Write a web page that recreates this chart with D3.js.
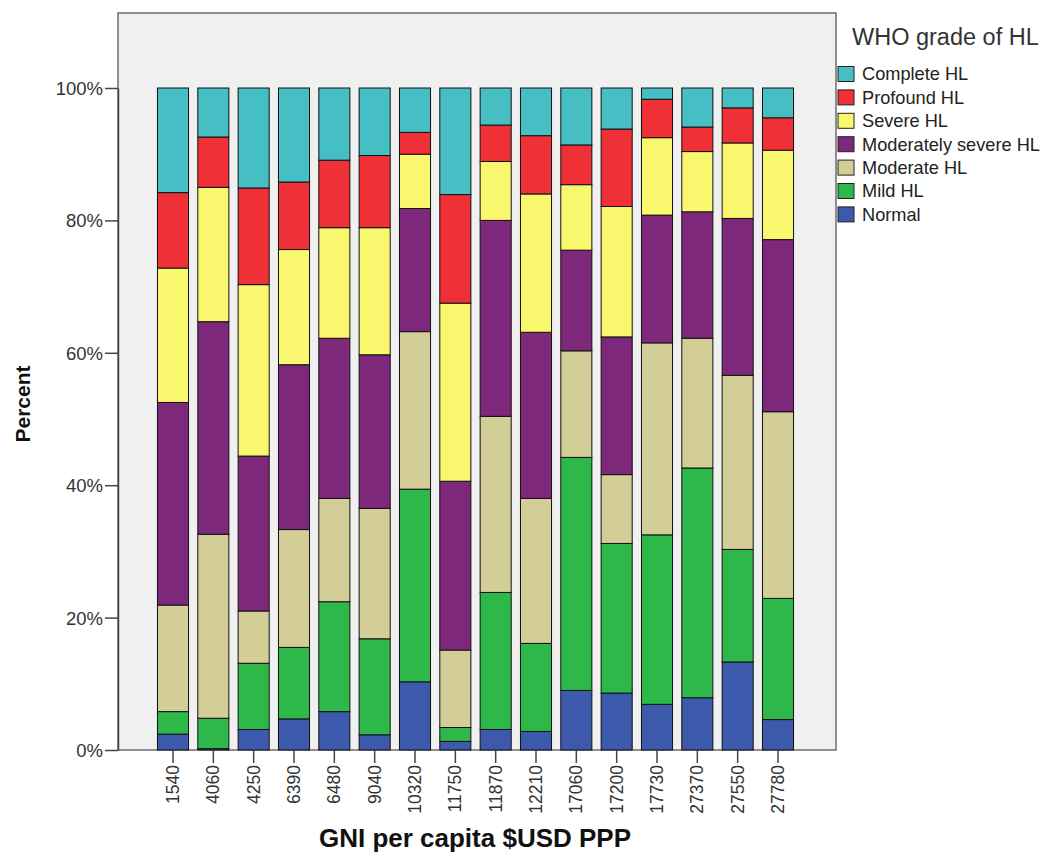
<!DOCTYPE html>
<html>
<head>
<meta charset="utf-8">
<script src="https://cdn.jsdelivr.net/npm/d3@7"></script>
<style>
  body { margin: 0; background: #fff; }
  svg { display: block; font-family: "Liberation Sans", Arial, sans-serif; }
</style>
</head>
<body>
<svg id="chart"></svg>
<script>
// GNI per capita categories
let categories = ["1540", "4060", "4250", "6390", "6480", "9040", "10320", "11750",
                  "11870", "12210", "17060", "17200", "17730", "27370", "27550", "27780"];

// percent in each WHO grade, bottom to top
let normal     = [2.4, 0.2, 3.1, 4.7, 5.8, 2.3, 10.3, 1.3, 3.1, 2.8, 9.0, 8.6, 6.9, 7.9, 13.3, 4.6];
let mild       = [3.4, 4.6, 10.0, 10.8, 16.6, 14.5, 29.1, 2.1, 20.7, 13.3, 35.2, 22.6, 25.6, 34.7, 17.0, 18.3];
let moderate   = [16.1, 27.8, 7.9, 17.8, 15.6, 19.7, 23.8, 11.7, 26.6, 21.9, 16.1, 10.4, 29.0, 19.6, 26.3, 28.2];
let modSevere  = [30.6, 32.1, 23.4, 24.9, 24.2, 23.2, 18.6, 25.5, 29.6, 25.1, 15.2, 20.8, 19.3, 19.1, 23.7, 26.0];
let severe     = [20.3, 20.3, 25.9, 17.4, 16.7, 19.2, 8.2, 26.9, 8.9, 20.9, 9.9, 19.7, 11.7, 9.1, 11.4, 13.5];
let profound   = [11.4, 7.6, 14.6, 10.2, 10.2, 10.9, 3.3, 16.4, 5.5, 8.8, 6.0, 11.7, 5.8, 3.7, 5.3, 4.9];
let complete   = [15.8, 7.4, 15.1, 14.2, 10.9, 10.2, 6.7, 16.1, 5.6, 7.2, 8.6, 6.2, 1.7, 5.9, 3.0, 4.5];

let seriesNames = ["Normal", "Mild HL", "Moderate HL", "Moderately severe HL", "Severe HL", "Profound HL", "Complete HL"];
let seriesValues = [normal, mild, moderate, modSevere, severe, profound, complete];
let seriesColors = ["#3d59ab", "#2fb84a", "#d3cd97", "#7e287c", "#f9f76e", "#f03037", "#45bec4"];
let yTicks = [0, 20, 40, 60, 80, 100];

let width = 1056;
let height = 858;

let svg = d3.select("#chart")
  .attr("width", width)
  .attr("height", height);

// рамка графика
let frame = { left: 118, right: 836, top: 13, bottom: 750 };

svg.append("rect")
  .attr("x", frame.left)
  .attr("y", frame.top)
  .attr("width", frame.right - frame.left)
  .attr("height", frame.bottom - frame.top)
  .attr("fill", "#f0f0f0")
  .attr("stroke", "#6e6e6e")
  .attr("stroke-width", 1.5);

// шкалы
let x = d3.scaleBand()
  .domain(categories)
  .range([137.3, 813.7])
  .paddingInner(0.23)
  .paddingOuter(0.5);

let y = d3.scaleLinear()
  .domain([0, 100])
  .range([frame.bottom, 88]);

// таблица для стека
let table = categories.map((c, i) => {
  let row = { cat: c };
  seriesNames.forEach((s, k) => { row[s] = seriesValues[k][i]; });
  return row;
});

let stack = d3.stack().keys(seriesNames);
let layers = stack(table);

svg.append("g")
  .selectAll("g")
  .data(layers)
  .join("g")
  .attr("fill", (d, k) => seriesColors[k])
  .selectAll("rect")
  .data(d => d)
  .join("rect")
  .attr("x", d => x(d.data.cat))
  .attr("width", x.bandwidth())
  .attr("y", d => y(d[1]))
  .attr("height", d => y(d[0]) - y(d[1]))
  .attr("stroke", "#111")
  .attr("stroke-width", 1);

// ось Y
let yAxis = svg.append("g")
  .attr("transform", `translate(${frame.left},0)`)
  .call(d3.axisLeft(y).tickValues(yTicks).tickFormat(d => d + "%").tickSize(13).tickPadding(2).tickSizeOuter(0));
yAxis.select(".domain").attr("stroke", "#444").attr("stroke-width", 1.5);
yAxis.selectAll(".tick line").attr("stroke", "#444").attr("stroke-width", 1.5);
yAxis.selectAll(".tick text")
  .attr("font-size", 18.5)
  .attr("fill", "#333")
  .attr("font-family", "Liberation Sans, Arial, sans-serif")
  .attr("dy", "0.35em");

// ось X
let xAxis = svg.append("g")
  .attr("transform", `translate(0,${frame.bottom})`)
  .call(d3.axisBottom(x).tickSize(13).tickSizeOuter(0));
xAxis.select(".domain").remove();
xAxis.selectAll(".tick line").attr("stroke", "#444").attr("stroke-width", 1.5);
xAxis.selectAll(".tick text")
  .attr("font-size", 17.5)
  .attr("fill", "#333")
  .attr("font-family", "Liberation Sans, Arial, sans-serif")
  .attr("text-anchor", "end")
  .attr("transform", "rotate(-90)")
  .attr("x", -15)
  .attr("y", 0)
  .attr("dy", "0.35em");

// подписи осей
svg.append("text")
  .attr("x", 475)
  .attr("y", 847)
  .attr("text-anchor", "middle")
  .attr("font-size", 26)
  .attr("font-weight", "bold")
  .attr("fill", "#111")
  .text("GNI per capita $USD PPP");

svg.append("text")
  .attr("transform", "translate(30,404) rotate(-90)")
  .attr("text-anchor", "middle")
  .attr("font-size", 21)
  .attr("font-weight", "bold")
  .attr("fill", "#111")
  .text("Percent");

// легенда
let legend = svg.append("g");
legend.append("text")
  .attr("x", 852)
  .attr("y", 45)
  .attr("font-size", 23.5)
  .attr("fill", "#333")
  .text("WHO grade of HL");

let legendOrder = d3.range(seriesNames.length).reverse();
let items = legend.selectAll("g.item")
  .data(legendOrder)
  .join("g")
  .attr("class", "item")
  .attr("transform", (k, i) => `translate(838,${74 + i * 23.4})`);

items.append("rect")
  .attr("x", 0)
  .attr("y", -7.5)
  .attr("width", 16)
  .attr("height", 15)
  .attr("fill", k => seriesColors[k])
  .attr("stroke", "#222")
  .attr("stroke-width", 1);

items.append("text")
  .attr("x", 24)
  .attr("y", 0)
  .attr("dy", "0.35em")
  .attr("font-size", 18.2)
  .attr("fill", "#222")
  .text(k => seriesNames[k]);
</script>
</body>
</html>
